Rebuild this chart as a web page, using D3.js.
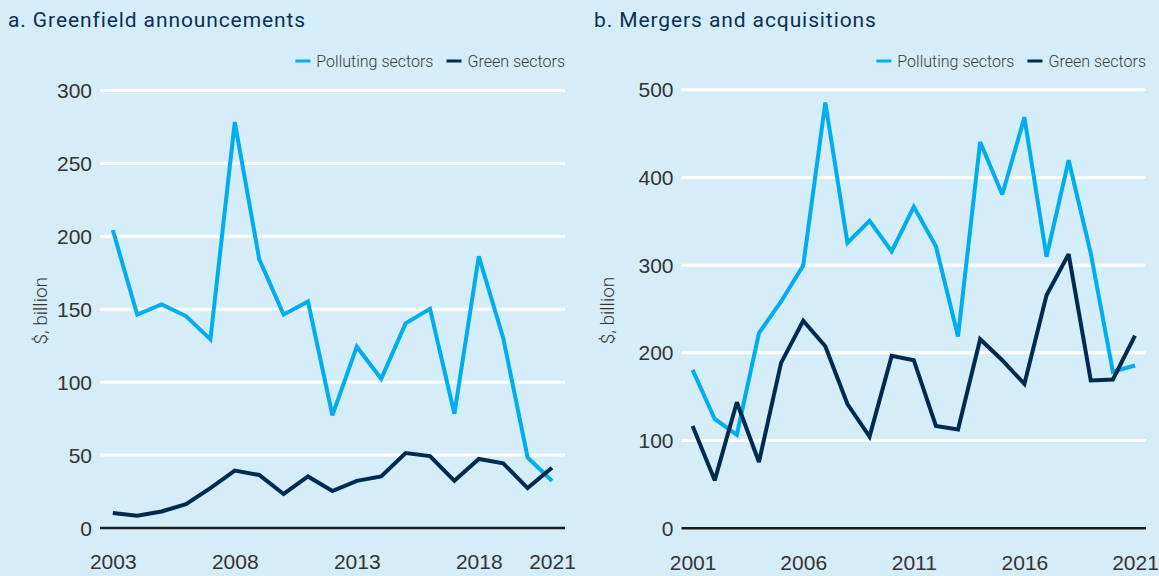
<!DOCTYPE html>
<html>
<head>
<meta charset="utf-8">
<script src="https://cdn.jsdelivr.net/npm/d3@7"></script>
<style>
    body { margin: 0; background: #d5edf9; }
    svg { display: block; font-family: Roboto, "Liberation Sans", sans-serif; }
    .grid line { stroke: #ffffff; stroke-width: 3; }
    .grid path { display: none; }
    .ylab text, .xlab text { fill: #333333; font-size: 21px; font-weight: 300; }
    .xlab path, .xlab line { display: none; }
    .title { fill: #0c2f52; font-size: 21px; letter-spacing: 0.9px; }
    .legend text { fill: #3a3a3a; font-size: 16px; font-weight: 300; }
    .unit { fill: #333333; font-size: 19px; font-weight: 300; }
</style>
</head>
<body>
<script>
// a. Greenfield announcements
var gfYears = d3.range(2003, 2022);
var gfPolluting = [204, 146, 153, 145, 129, 278, 184, 146, 155, 77, 124, 102, 140, 150, 78, 186, 130, 48, 32];
var gfGreen = [10, 8, 11, 16, 27, 39, 36, 23, 35, 25, 32, 35, 51, 49, 32, 47, 44, 27, 41];
var gfYTicks = [0, 50, 100, 150, 200, 250, 300];
var gfXTicks = [2003, 2008, 2013, 2018, 2021];

// b. Mergers and acquisitions
var maYears = d3.range(2001, 2022);
var maPolluting = [180, 124, 106, 222, 258, 299, 485, 325, 350, 315, 366, 321, 218, 440, 380, 468, 309, 419, 313, 178, 185];
var maGreen = [116, 54, 143, 75, 188, 236, 207, 141, 104, 196, 191, 116, 112, 215, 191, 164, 265, 312, 168, 169, 219];
var maYTicks = [0, 100, 200, 300, 400, 500];
var maXTicks = [2001, 2006, 2011, 2016, 2021];

var seriesNames = ["Polluting sectors", "Green sectors"];
var seriesColors = ["#00adef", "#002a4f"];

var width = 1159, height = 576;

var svg = d3.select("body").append("svg")
    .attr("width", width)
    .attr("height", height);

svg.append("rect")
    .attr("width", width)
    .attr("height", height)
    .attr("fill", "#d5edf9");

function panel(opts) {
    var g = svg.append("g");

    var x = d3.scaleLinear().domain([opts.years[0], opts.years[opts.years.length - 1]]).range([opts.x0, opts.x1]);
    var y = d3.scaleLinear().domain([0, opts.yTicks[opts.yTicks.length - 1]]).range([opts.y0, opts.y1]);

    g.append("text")
        .attr("class", "title")
        .attr("x", opts.titleX)
        .attr("y", 27)
        .text(opts.title);

    // gridlines and y labels
    g.append("g")
        .attr("class", "grid ylab")
        .attr("transform", "translate(" + opts.gridLeft + ",0)")
        .call(d3.axisLeft(y).tickValues(opts.yTicks).tickSize(-(opts.gridRight - opts.gridLeft)).tickPadding(8))
        .call(function (a) {
            a.selectAll(".tick text").attr("dy", "0.36em");
            a.selectAll(".tick").filter(function (d) { return d === 0; }).select("line")
                .style("stroke", "#1a1a1a").style("stroke-width", 2.5);
        });

    g.append("g")
        .attr("class", "xlab")
        .attr("transform", "translate(0," + opts.y0 + ")")
        .call(d3.axisBottom(x).tickValues(opts.xTicks).tickFormat(d3.format("d")).tickSize(0).tickPadding(27));

    g.append("text")
        .attr("class", "unit")
        .attr("transform", "translate(" + opts.unitX + "," + ((opts.y0 + opts.y1) / 2 + 2) + ") rotate(-90)")
        .attr("text-anchor", "middle")
        .text("$, billion");

    var line = d3.line()
        .x(function (d, i) { return x(opts.years[i]); })
        .y(function (d) { return y(d); });

    [opts.polluting, opts.green].forEach(function (vals, k) {
        g.append("path")
            .datum(vals)
            .attr("fill", "none")
            .attr("stroke", seriesColors[k])
            .attr("stroke-width", 4)
            .attr("stroke-linejoin", "miter")
            .attr("stroke-miterlimit", 3)
            .attr("d", line);
    });

    // legend, right aligned to the grid
    var legend = g.append("g").attr("class", "legend");
    var items = legend.selectAll("g").data(seriesNames).enter().append("g");
    items.append("line")
        .attr("x1", 0).attr("x2", 15)
        .attr("y1", 0).attr("y2", 0)
        .attr("stroke", function (d, i) { return seriesColors[i]; })
        .attr("stroke-width", 3);
    items.append("text")
        .attr("x", 21)
        .attr("dy", "0.35em")
        .text(function (d) { return d; });
    var pos = 0;
    items.each(function () {
        d3.select(this).attr("transform", "translate(" + pos + ",0)");
        pos += this.getBBox().width + 13;
    });
    var lw = pos - 13;
    legend.attr("transform", "translate(" + (opts.gridRight - lw) + ",61)");
}

panel({
    title: "a. Greenfield announcements", titleX: 8,
    years: gfYears, polluting: gfPolluting, green: gfGreen,
    yTicks: gfYTicks, xTicks: gfXTicks,
    x0: 112.8, x1: 552, y0: 527.5, y1: 90,
    gridLeft: 100, gridRight: 565, unitX: 47
});

panel({
    title: "b. Mergers and acquisitions", titleX: 594,
    years: maYears, polluting: maPolluting, green: maGreen,
    yTicks: maYTicks, xTicks: maXTicks,
    x0: 692.6, x1: 1135, y0: 527.7, y1: 89.3,
    gridLeft: 681.5, gridRight: 1146, unitX: 614
});
</script>
</body>
</html>
